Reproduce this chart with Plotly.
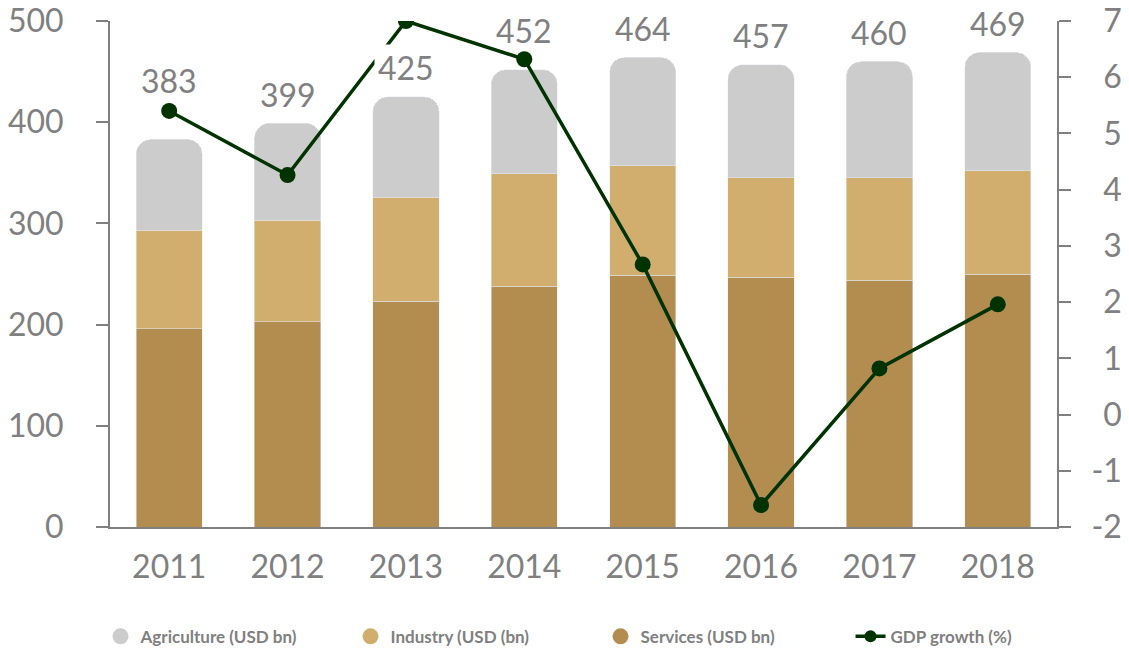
import plotly.graph_objects as go

years = ["2011", "2012", "2013", "2014", "2015", "2016", "2017", "2018"]
services = [196, 203, 223, 238, 249, 247, 244, 250]
industry = [97, 100, 103, 111, 108, 98, 101, 102]
agriculture = [90, 96, 99, 103, 107, 112, 115, 117]
gdp_growth = [5.40, 4.26, 7.00, 6.32, 2.67, -1.61, 0.82, 1.96]
left_ticks = [0, 100, 200, 300, 400, 500]
right_ticks = [-2, -1, 0, 1, 2, 3, 4, 5, 6, 7]

FONT = "Lato"
GREY = "#808080"
C_AGR = "#CCCCCC"
C_IND = "#D2AE6E"
C_SER = "#B38D50"
C_GDP = "#013300"

fig = go.Figure()

fig.add_trace(go.Bar(x=years, y=services, marker_color=C_SER, showlegend=False,
                     name="Services (USD bn)"))
fig.add_trace(go.Bar(x=years, y=industry, marker_color=C_IND, showlegend=False,
                     name="Industry (USD (bn)"))
fig.add_trace(go.Bar(x=years, y=agriculture, marker_color=C_AGR, showlegend=False,
                     name="Agriculture (USD bn)"))

fig.add_trace(go.Scatter(x=years, y=gdp_growth, yaxis="y2", mode="lines+markers",
                         line=dict(color=C_GDP, width=3.5),
                         marker=dict(color=C_GDP, size=16),
                         showlegend=False, name="GDP growth (%)"))

# legend-only entries (circle symbols)
for nm, col in [("Agriculture (USD bn)", C_AGR), ("Industry (USD (bn)", C_IND),
                ("Services (USD bn)", C_SER)]:
    fig.add_trace(go.Scatter(x=[None], y=[None], mode="markers", name=nm,
                             marker=dict(color=col, size=20, symbol="circle")))
fig.add_trace(go.Scatter(x=[None], y=[None], yaxis="y2", mode="lines+markers",
                         name="GDP growth (%)",
                         line=dict(color=C_GDP, width=3.5),
                         marker=dict(color=C_GDP, size=12)))

totals = [s + i + a for s, i, a in zip(services, industry, agriculture)]
extra = {"2011": 30, "2014": 10}
no_bg = {"2011", "2014"}
for idx, (yr, t) in enumerate(zip(years, totals)):
    fig.add_annotation(x=idx, y=t, xref="x", yref="y", text=str(t), showarrow=False,
                       yanchor="middle", yshift=29 + extra.get(yr, 0),
                       bgcolor="rgba(0,0,0,0)" if yr in no_bg else "white",
                       borderpad=3,
                       font=dict(family=FONT, size=32, color=GREY))

right_text = [("-" + str(abs(v))) if v < 0 else
              ('<span style="color:white">-</span>' + str(v)) for v in right_ticks]

# the page body has an 8px margin, so the figure is drawn 8px in from the corner
fig.update_layout(
    width=1121, height=645,
    margin=dict(l=102, r=72, t=13, b=126, autoexpand=False),
    paper_bgcolor="white", plot_bgcolor="white",
    barmode="stack", bargap=0.44, barcornerradius=15,
    font=dict(family=FONT, color=GREY),
    xaxis=dict(type="category", range=[-0.5, 7.5], showline=True, linecolor=GREY,
               linewidth=2, showgrid=False, ticks="", tickfont=dict(size=32, color=GREY),
               ticklabelstandoff=11, automargin=False),
    yaxis=dict(range=[0, 500], tickvals=left_ticks, showline=True, linecolor=GREY,
               linewidth=2, showgrid=False, zeroline=False, ticks="outside", ticklen=12,
               tickwidth=2, tickcolor=GREY, tickfont=dict(size=32, color=GREY),
               ticklabelstandoff=26, ticklabeloverflow="allow", automargin=False),
    yaxis2=dict(range=[-2, 7], overlaying="y", side="right", tickvals=right_ticks,
                ticktext=right_text, showline=True, linecolor=GREY, linewidth=2,
                showgrid=False, zeroline=False, ticks="outside", ticklen=12,
                tickwidth=2, tickcolor=GREY, tickfont=dict(size=32, color=GREY),
                ticklabelstandoff=14, ticklabeloverflow="allow", automargin=False),
    legend=dict(orientation="h", x=-0.01, y=-0.217, xanchor="left", yanchor="middle",
                traceorder="normal",
                font=dict(family=FONT, size=17, color=GREY, weight="bold"),
                entrywidthmode="pixels", entrywidth=205, itemsizing="trace",
                bgcolor="rgba(0,0,0,0)"),
)

fig.write_html("out.html")
